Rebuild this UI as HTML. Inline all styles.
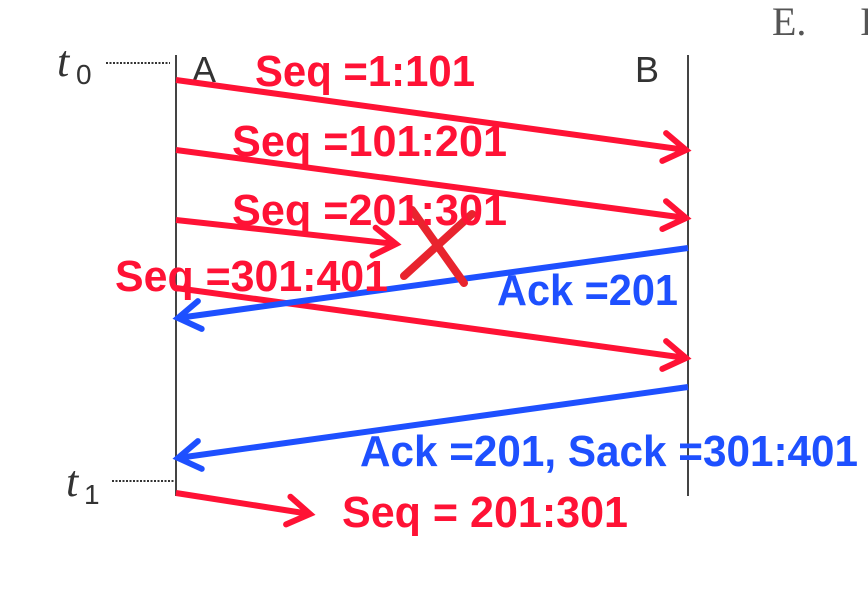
<!DOCTYPE html>
<html><head><meta charset="utf-8"><style>
html,body{margin:0;padding:0;background:#fff;}
svg{display:block;}
.r{fill:#ff1235;font-family:"Liberation Sans",sans-serif;font-weight:bold;font-size:44px;}
.b{fill:#1e50ff;font-family:"Liberation Sans",sans-serif;font-weight:bold;font-size:44px;}
</style></head><body>
<svg width="868" height="604" viewBox="0 0 868 604" xmlns="http://www.w3.org/2000/svg">
<defs>
<marker id="mr" markerUnits="userSpaceOnUse" markerWidth="40" markerHeight="40" refX="0" refY="0" viewBox="-30 -20 40 40" orient="auto" overflow="visible">
<path d="M-22,-14 L0,0 L-22,14" fill="none" stroke="#ff1235" stroke-width="6" stroke-linecap="round"/>
</marker>
<marker id="mb" markerUnits="userSpaceOnUse" markerWidth="40" markerHeight="40" refX="0" refY="0" viewBox="-30 -20 40 40" orient="auto" overflow="visible">
<path d="M-22,-14 L0,0 L-22,14" fill="none" stroke="#1e50ff" stroke-width="6" stroke-linecap="round"/>
</marker>
</defs>
<text x="772" y="35" font-family="Liberation Serif,serif" font-size="40" fill="#555">E.</text>
<text x="860" y="35" font-family="Liberation Serif,serif" font-size="40" fill="#555">I</text>
<line x1="176" y1="55" x2="176" y2="496" stroke="#444" stroke-width="2"/>
<line x1="688" y1="55" x2="688" y2="496" stroke="#444" stroke-width="2"/>
<text x="57" y="76" font-family="Liberation Serif,serif" font-style="italic" font-size="44" fill="#333">t</text>
<text x="76" y="84" font-family="Liberation Sans,sans-serif" font-size="28" fill="#333">0</text>
<line x1="106" y1="63" x2="170" y2="63" stroke="#333" stroke-width="2" stroke-dasharray="2,1.5"/>
<text x="66" y="496" font-family="Liberation Serif,serif" font-style="italic" font-size="44" fill="#333">t</text>
<text x="84" y="504" font-family="Liberation Sans,sans-serif" font-size="28" fill="#333">1</text>
<line x1="112" y1="481" x2="174" y2="481" stroke="#333" stroke-width="2" stroke-dasharray="2,1.5"/>
<text x="192" y="82" font-family="Liberation Sans,sans-serif" font-size="36" fill="#333">A</text>
<text x="635" y="82" font-family="Liberation Sans,sans-serif" font-size="36" fill="#333">B</text>
<g stroke-width="6" fill="none">
<line x1="176" y1="80" x2="686" y2="150" stroke="#ff1235" marker-end="url(#mr)"/>
<line x1="176" y1="150" x2="686" y2="218" stroke="#ff1235" marker-end="url(#mr)"/>
<line x1="176" y1="220" x2="396" y2="244" stroke="#ff1235" marker-end="url(#mr)"/>
<line x1="176" y1="288" x2="686" y2="358" stroke="#ff1235" marker-end="url(#mr)"/>
<line x1="688" y1="248" x2="178" y2="318" stroke="#1e50ff" marker-end="url(#mb)"/>
<line x1="688" y1="387" x2="178" y2="458" stroke="#1e50ff" marker-end="url(#mb)"/>
<line x1="176" y1="493" x2="310" y2="514" stroke="#ff1235" marker-end="url(#mr)"/>
</g>
<g stroke="#e8242e" stroke-width="8" stroke-linecap="round">
<line x1="412" y1="210" x2="464" y2="283"/>
<line x1="472" y1="214" x2="404" y2="276"/>
</g>
<text class="r" x="255" y="86" textLength="220" lengthAdjust="spacingAndGlyphs">Seq =1:101</text>
<text class="r" x="232" y="156" textLength="275" lengthAdjust="spacingAndGlyphs">Seq =101:201</text>
<text class="r" x="232" y="225" textLength="275" lengthAdjust="spacingAndGlyphs">Seq =201:301</text>
<text class="r" x="115" y="291" textLength="273" lengthAdjust="spacingAndGlyphs">Seq =301:401</text>
<text class="b" x="497" y="305" textLength="181" lengthAdjust="spacingAndGlyphs">Ack =201</text>
<text class="b" x="360" y="466" textLength="498" lengthAdjust="spacingAndGlyphs">Ack =201, Sack =301:401</text>
<text class="r" x="342" y="527" textLength="286" lengthAdjust="spacingAndGlyphs">Seq = 201:301</text>
</svg>
</body></html>
